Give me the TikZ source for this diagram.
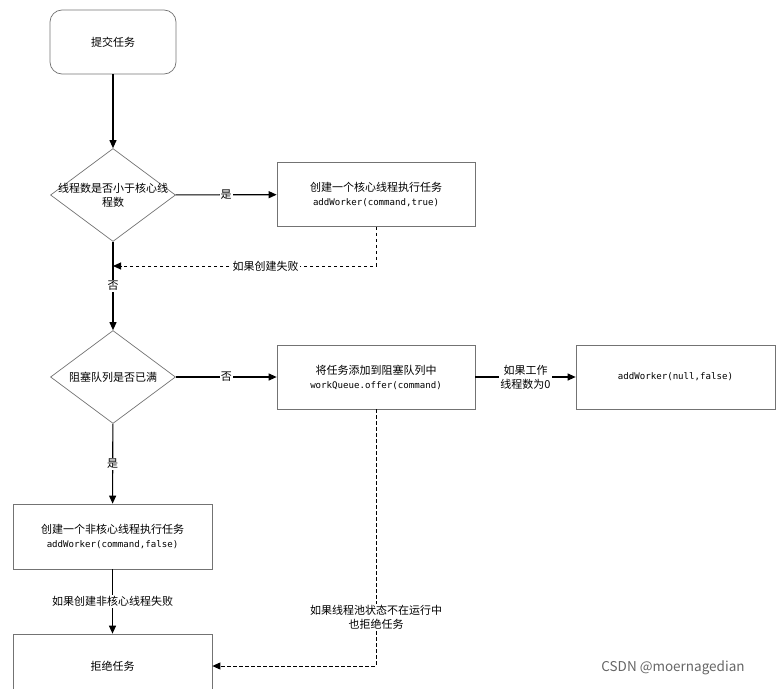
\documentclass[tikz,border=0pt]{standalone}
\usepackage{fontspec}
\setmainfont{Noto Sans CJK SC}
\newfontfamily\cjk{Noto Sans CJK SC}
\newfontfamily\monof{DejaVu Sans Mono}
\usetikzlibrary{shapes.geometric,arrows.meta}
\newcommand{\mytt}{\monof\fontsize{9.1}{12}\selectfont}
\begin{document}
\begin{tikzpicture}[x=1pt,y=-1pt,
  boxstyle/.style={draw=black!55,line width=0.7pt,rectangle,minimum width=198pt,minimum height=64pt,align=center,font=\cjk\fontsize{11}{14}\selectfont,inner sep=2pt},
  roundbox/.style={boxstyle,rounded corners=12pt,minimum width=126pt,minimum height=64pt},
  decision/.style={draw=black!55,line width=0.7pt,diamond,aspect=1.34,minimum width=125pt,minimum height=93pt,inner sep=0pt,align=center,font=\cjk\fontsize{11}{14}\selectfont},
  arr/.style={draw=black,line width=1.1pt,-{Triangle[length=8pt,width=7pt]}},
  darr/.style={draw=black,line width=0.9pt,dash pattern=on 3.5pt off 2.5pt,-{Triangle[length=8pt,width=7pt]}},
  lbl/.style={fill=white,inner sep=1pt,align=center,font=\cjk\fontsize{11}{14}\selectfont},
  plain/.style={align=center,inner sep=0pt,font=\cjk\fontsize{11}{14}\selectfont}]
\useasboundingbox (0,0) rectangle (778,688);
\clip (0,0) rectangle (778,688);
\node[roundbox] (start) at (113,42) {提交任务};
\node[decision] (d1) at (113,195) {};
\node[plain] (d1t) at (113,195) {线程数是否小于核心线\\程数};
\node[boxstyle] (b1) at (376,194.5) {创建一个核心线程执行任务\\{\mytt addWorker(command,true)}};
\node[decision] (d2) at (113,377) {阻塞队列是否已满};
\node[boxstyle] (b2) at (376,377) {将任务添加到阻塞队列中\\{\mytt workQueue.offer(command)}};
\node[boxstyle,minimum width=199pt] (b3) at (675.5,377) {{\mytt addWorker(null,false)}};
\node[boxstyle,minimum width=199pt,minimum height=65pt] (b4) at (112.5,536.5) {创建一个非核心线程执行任务\\{\mytt addWorker(command,false)}};
\node[boxstyle,minimum width=199pt] (b5) at (112.5,666) {拒绝任务};
\coordinate (c1) at (376,266);
\coordinate (c1e) at (113,266);
\coordinate (c2) at (376,666);

\draw[arr] (start) -- (d1);
\draw[arr] (d1) -- node[lbl] {是} (b1);
\draw[arr] (d1) -- node[lbl,pos=0.5] {否} (d2);
\draw[darr] (b1.south) -- (c1) -- node[lbl,pos=0.42] {如果创建失败} (c1e);
\draw[arr] (d2) -- node[lbl] {否} (b2);
\draw[arr] (b2) -- node[lbl] {如果工作\\线程数为0} (b3);
\draw[arr] (d2) -- node[lbl] {是} (b4);
\draw[arr] (b4) -- node[lbl,pos=0.5] {如果创建非核心线程失败} (b5);
\draw[darr] (b2.south) -- node[lbl,pos=0.81] {如果线程池状态不在运行中\\也拒绝任务} (c2) -- (b5.east);
\node[font=\cjk\fontsize{13.5}{16}\selectfont,text=black!60] (wm) at (673,668) {CSDN @moernagedian};
\end{tikzpicture}
\end{document}
